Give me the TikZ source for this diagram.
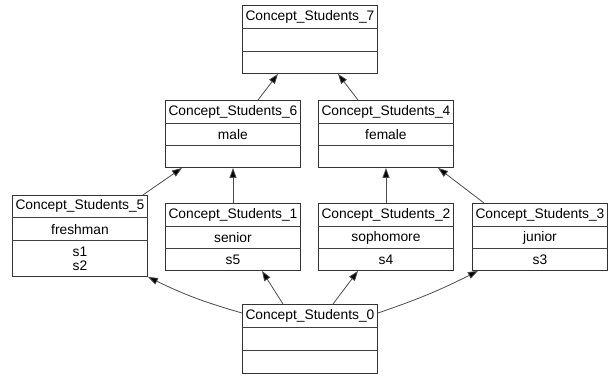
\documentclass[tikz,border=0pt]{standalone}
\usepackage{fontspec}
\setmainfont{Liberation Sans}
\usetikzlibrary{arrows.meta,calc}

% One concept: name, left, top, three row heights, title, attribute row, object row
\newcommand\concept[9]{%
  \node[box, minimum height=#4+#5+#6, anchor=north west] (#1) at (#2,#3) {};
  \node[rowtext, minimum height=#4, anchor=north] (#1t) at (#1.north) {#7};
  \node[rowtext, minimum height=#5, anchor=north] (#1a) at (#1t.south) {#8};
  \node[rowtext, minimum height=#6, anchor=north] (#1o) at (#1a.south) {#9};
  \draw[sep] (#1t.south west) -- (#1t.south east);
  \draw[sep] (#1a.south west) -- (#1a.south east);
}

\begin{document}
\begin{tikzpicture}[x=1pt, y=-1pt,
  box/.style={draw=black!80, line width=0.9pt, fill=white, minimum width=135pt, inner sep=0pt},
  rowtext/.style={inner sep=0pt, minimum width=135pt, align=center,
    font=\fontsize{13.8}{14.5}\selectfont},
  sep/.style={draw=black!75, line width=0.9pt},
  edge/.style={draw=black!70, line width=0.8pt, -{Triangle[length=10pt,width=7pt,fill=black]}}]
\useasboundingbox[fill=white] (0,0) rectangle (611,376);

\concept{c7}{242}{5}{23}{23}{22}{Concept\_Students\_7}{}{}
\concept{c6}{165}{100}{23}{22}{22}{Concept\_Students\_6}{male}{}
\concept{c4}{318}{100}{23}{22}{22}{Concept\_Students\_4}{female}{}
\concept{c5}{12}{195}{22}{23}{36}{Concept\_Students\_5}{freshman}{s1\\s2}
\concept{c1}{165}{203}{23}{22}{22}{Concept\_Students\_1}{senior}{s5}
\concept{c2}{318}{203}{23}{22}{22}{Concept\_Students\_2}{sophomore}{s4}
\concept{c3}{472}{203}{23}{22}{22}{Concept\_Students\_3}{junior}{s3}
\concept{c0}{242}{304}{23}{23}{23}{Concept\_Students\_0}{}{}

% bottom concept up to the object concepts
\draw[edge] ($(c0.north west)+(0,9)$) to[bend left=5] (c5.south east);
\draw[edge] ($(c0.north west)+(41,0)$) -- ($(c1.south west)+(97,0)$);
\draw[edge] ($(c0.north west)+(91,0)$) -- ($(c2.south west)+(40,0)$);
\draw[edge] ($(c0.north east)+(0,9)$) to[bend right=4] ($(c3.south west)+(6,0)$);

% object concepts up to the attribute concepts
\draw[edge] ($(c5.north east)+(-5,0)$) -- ($(c6.south west)+(17,0)$);
\draw[edge] ($(c1.north west)+(68,0)$) -- ($(c6.south west)+(68,0)$);
\draw[edge] ($(c2.north west)+(68,0)$) -- ($(c4.south west)+(68,0)$);
\draw[edge] ($(c3.north west)+(12,0)$) -- ($(c4.south west)+(120,0)$);

% attribute concepts up to the top concept
\draw[edge] ($(c6.north west)+(93,0)$) -- ($(c7.south west)+(36,0)$);
\draw[edge] ($(c4.north west)+(40,0)$) -- ($(c7.south west)+(96,0)$);
\end{tikzpicture}
\end{document}
